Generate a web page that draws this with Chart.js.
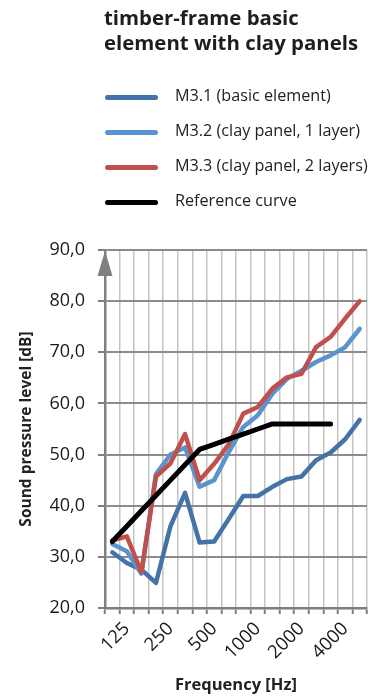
<!DOCTYPE html>
<html>
<head>
<meta charset="utf-8">
<script src="https://cdn.jsdelivr.net/npm/chart.js@4/dist/chart.umd.min.js"></script>
<style>
  html, body { margin: 0; padding: 0; background: #fff; }
  #wrap { position: relative; width: 383px; height: 697px; overflow: hidden; }
  #chart { position: absolute; left: 0; top: 0; }
  #title {
    position: absolute; left: 104px; top: 5px;
    font: bold 20.4px "Open Sans", sans-serif; line-height: 25px; color: #1e1e1e;
  }
  #legend { position: absolute; left: 105px; top: 80px; }
  .item { position: relative; height: 35px; }
  .swatch { position: absolute; left: 0; top: 14.5px; width: 53px; height: 5px; border-radius: 3px; }
  .label { position: absolute; left: 70px; top: 5px; font: 16.2px "Open Sans", sans-serif; line-height: 20px; color: #222; white-space: nowrap; }
</style>
</head>
<body>
<div id="wrap">
  <canvas id="chart" width="383" height="697"></canvas>
  <div id="title">timber-frame basic<br>element with clay panels</div>
  <div id="legend"></div>
</div>
<script>
// One-third-octave band centre frequencies (Hz)
const frequencies = ['100','125','160','200','250','315','400','500','630','800','1000','1250','1600','2000','2500','3150','4000','5000'];
// Only every third band is labelled on the axis
const frequencyTickLabels = ['','125','','','250','','','500','','','1000','','','2000','','','4000',''];
const yTicks = [20, 30, 40, 50, 60, 70, 80, 90];

// Sound pressure level (dB) per band
const seriesNames = ['M3.1 (basic element)', 'M3.2 (clay panel, 1 layer)', 'M3.3 (clay panel, 2 layers)', 'Reference curve'];
const m31 = [30.9, 28.8, 27.5, 24.9, 36.0, 42.5, 32.8, 33.0, 37.4, 41.9, 41.9, 43.7, 45.2, 45.7, 48.9, 50.4, 53.0, 56.8];
const m32 = [32.5, 31.1, 26.7, 46.2, 50.0, 51.4, 43.7, 45.0, 50.5, 55.4, 57.7, 61.9, 64.8, 66.4, 68.1, 69.4, 71.0, 74.6];
const m33 = [33.2, 34.0, 27.0, 45.7, 48.3, 54.0, 45.0, 48.2, 52.0, 58.0, 59.3, 62.9, 65.1, 65.8, 71.0, 73.0, 76.6, 80.0];
const referenceCurve = [33, 36, 39, 42, 45, 48, 51, 52, 53, 54, 55, 56, 56, 56, 56, 56, null, null];

const seriesColors = ['#4573a7', '#5a94d0', '#c0504d', '#000000'];
const seriesValues = [m31, m32, m33, referenceCurve];

// HTML legend built from the series names and colours
const legend = document.getElementById('legend');
seriesNames.forEach((name, i) => {
  const item = document.createElement('div');
  item.className = 'item';
  const sw = document.createElement('div');
  sw.className = 'swatch';
  sw.style.background = seriesColors[i];
  const lb = document.createElement('div');
  lb.className = 'label';
  lb.textContent = name;
  item.appendChild(sw);
  item.appendChild(lb);
  legend.appendChild(item);
});

const AXIS_GREY = '#7f7f7f';

// Arrow head on top of the vertical axis
const axisArrow = {
  id: 'axisArrow',
  afterDraw(chart) {
    const { ctx, chartArea } = chart;
    const x = chartArea.left;
    const top = chartArea.top;
    ctx.save();
    ctx.fillStyle = AXIS_GREY;
    ctx.beginPath();
    ctx.moveTo(x, top + 1);
    ctx.lineTo(x + 7.5, top + 26);
    ctx.lineTo(x - 7.5, top + 26);
    ctx.closePath();
    ctx.fill();
    ctx.restore();
  }
};

new Chart(document.getElementById('chart'), {
  type: 'line',
  data: {
    labels: frequencies,
    datasets: seriesValues.map((vals, i) => ({
      label: seriesNames[i],
      data: vals,
      borderColor: seriesColors[i],
      backgroundColor: seriesColors[i],
      borderWidth: i === 3 ? 5 : 4.5,
      borderCapStyle: 'round',
      borderJoinStyle: 'round',
      pointRadius: 0,
      tension: 0,
      fill: false
    })).reverse()
  },
  options: {
    responsive: false,
    devicePixelRatio: 1,
    animation: false,
    events: [],
    layout: { padding: { top: 250, right: 16, left: 0, bottom: 0 } },
    plugins: { legend: { display: false }, tooltip: { enabled: false } },
    scales: {
      x: {
        type: 'category',
        offset: true,
        afterFit(scale) { scale.height = 89; },
        grid: {
          offset: true,
          color: '#c4c4c4',
          lineWidth: 1.5,
          drawTicks: true,
          tickLength: 6,
          tickColor: AXIS_GREY,
          tickWidth: 2
        },
        border: { color: AXIS_GREY, width: 2.5 },
        ticks: {
          autoSkip: false,
          minRotation: 45,
          maxRotation: 45,
          padding: 4,
          color: '#1a1a1a',
          font: { family: 'Open Sans', size: 18.5 },
          callback: (v, i) => frequencyTickLabels[i]
        },
        title: {
          display: true,
          text: 'Frequency [Hz]',
          color: '#222',
          font: { family: 'Open Sans', size: 16.5, weight: 'bold' },
          padding: { top: 0, bottom: 2 }
        }
      },
      y: {
        min: 20,
        max: 90,
        afterFit(scale) { scale.width = 105; },
        afterBuildTicks(scale) { scale.ticks = yTicks.map(v => ({ value: v })); },
        grid: {
          color: '#8c8c8c',
          lineWidth: 2,
          drawTicks: true,
          tickLength: 7,
          tickColor: AXIS_GREY
        },
        border: { color: AXIS_GREY, width: 2.5 },
        ticks: {
          padding: 13,
          color: '#1a1a1a',
          font: { family: 'Open Sans', size: 18 },
          callback: v => v.toFixed(1).replace('.', ',')
        },
        title: {
          display: true,
          text: 'Sound pressure level [dB]',
          color: '#222',
          font: { family: 'Open Sans', size: 15.5, weight: 'bold' },
          padding: { top: 17, bottom: 0 }
        }
      }
    }
  },
  plugins: [axisArrow]
});
</script>
</body>
</html>
